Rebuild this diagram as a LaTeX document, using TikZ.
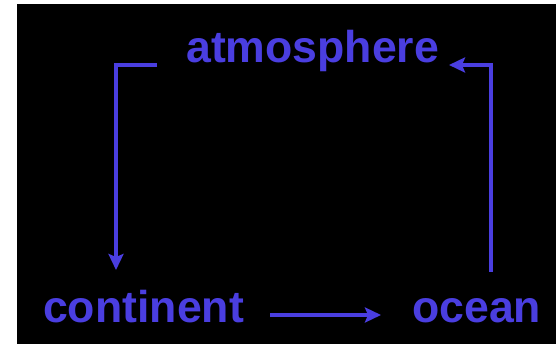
\documentclass[tikz,border=0pt]{standalone}
\usepackage{fontspec}
\setmainfont{Liberation Sans}
\usetikzlibrary{arrows.meta}
\definecolor{cyc}{RGB}{74,62,224}
\begin{document}
\begin{tikzpicture}[x=1pt,y=-1pt,
  lbl/.style={text=cyc,font=\bfseries\fontsize{44.6}{44.6}\selectfont,inner sep=0pt,anchor=base west},
  arr/.style={draw=cyc,line width=3.3pt,-{Stealth[length=16pt,width=15pt,inset=3pt]}}]
\useasboundingbox (0,0) rectangle (556,344);
\fill[white] (0,0) rectangle (556,344);
\fill[black] (17,4) rectangle (556,344);
\node[lbl] (atm) at (186,63) {atmosphere};
\node[lbl] (cont) at (43,322) {continent};
\node[lbl] (ocean) at (412,322) {ocean};
\coordinate (a1) at (157,65);
\coordinate (c1) at (116,270);
\coordinate (o1) at (491,272);
\coordinate (a2) at (449,65);
\coordinate (c2) at (270,315);
\coordinate (o2) at (381,315);
\draw[arr] (a1) -| (c1);
\draw[arr] (o1) |- (a2);
\draw[arr] (c2) -- (o2);
\end{tikzpicture}
\end{document}
